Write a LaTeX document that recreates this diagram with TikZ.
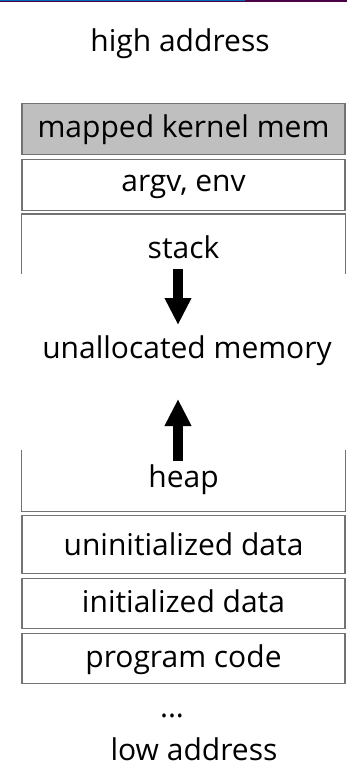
\documentclass[tikz,border=0pt]{standalone}
\usepackage{fontspec}
\setmainfont{Open Sans}
\usetikzlibrary{arrows.meta}

\tikzset{
  segfont/.style={font=\fontsize{30}{36}\selectfont},
  seg/.style={segfont, draw=black!55, line width=1.2pt, minimum width=323pt,
    inner xsep=0pt, inner ysep=0pt, text height=34pt, text depth=16pt, anchor=north},
  growth/.style={line width=10pt, -{Triangle[width=25pt,length=27pt]}}
}

\begin{document}
\begin{tikzpicture}[x=1pt,y=-1pt]
\useasboundingbox (0,0) rectangle (347,778);
\fill[white] (0,0) rectangle (347,778);
\fill[black!60!blue!70!red] (0,0) rectangle (347,1.6);
\fill[blue!40!cyan!70!black] (0,0) rectangle (245,0.9);

\node[segfont, anchor=base] (high) at (180,52) {high address};

\node[seg, fill=black!25, text height=34pt, text depth=17pt] (kernel) at (183.5,103) {mapped kernel mem};
\node[seg, text height=32pt, text depth=19pt] (args) at (183.5,159) {argv, env};

% open-ended stack and heap regions
\node[seg, draw=none, text height=44pt, text depth=15pt] (stack) at (183.5,214) {stack};
\draw[draw=black!55, line width=1.2pt] (stack.south west) -- (stack.north west) -- (stack.north east) -- (stack.south east);

\node[segfont, anchor=base] (free) at (187,358) {unallocated memory};

\node[seg, draw=none, text height=37pt, text depth=23pt] (heap) at (183.5,450) {heap};
\draw[draw=black!55, line width=1.2pt] (heap.north west) -- (heap.south west) -- (heap.south east) -- (heap.north east);

\node[seg, text height=40pt, text depth=18pt] (bss) at (183.5,515) {uninitialized data};
\node[seg] (data) at (183.5,578) {initialized data};
\node[seg] (text) at (183.5,633) {program code};

\node[segfont, anchor=base] (dots) at (172,717) {...};
\node[segfont, anchor=base] (low) at (194,760) {low address};

% growth directions
\coordinate (stackend) at (178,269);
\coordinate (stacktip) at (178,325);
\coordinate (heapend) at (178,461);
\coordinate (heaptip) at (178,399);
\draw[growth] (stackend) -- (stacktip);
\draw[growth] (heapend) -- (heaptip);
\end{tikzpicture}
\end{document}
